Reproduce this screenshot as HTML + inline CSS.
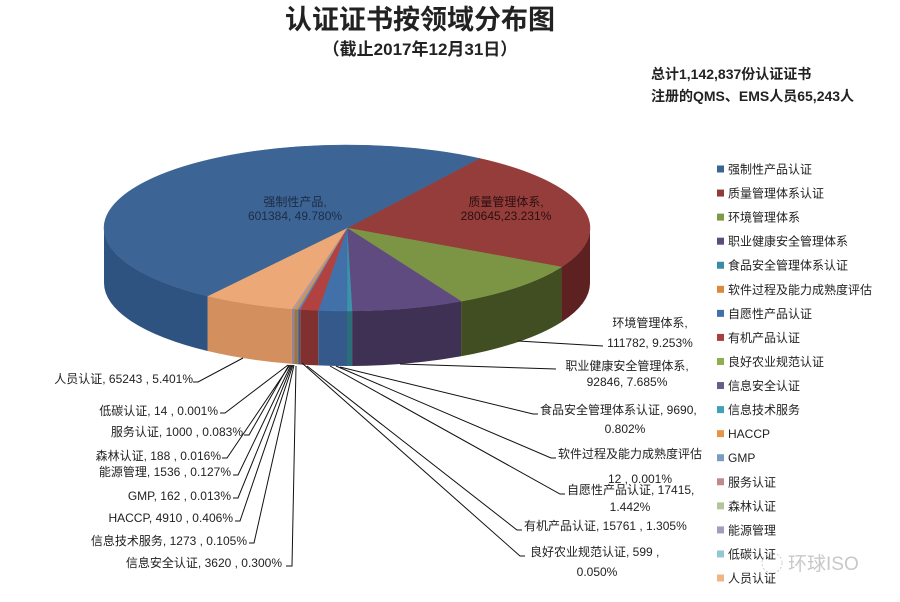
<!DOCTYPE html>
<html><head><meta charset="utf-8">
<style>
html,body{margin:0;padding:0;background:#fff;}
body{width:900px;height:602px;overflow:hidden;position:relative;font-family:"Liberation Sans","Noto Sans CJK SC",sans-serif;}
svg{position:absolute;left:0;top:0;}
.t{font-family:"Liberation Sans","Noto Sans CJK SC",sans-serif;fill:#222;}
</style></head>
<body>
<svg id="s" width="900" height="602" viewBox="0 0 900 602">
<g id="pie"></g>
<text class="t" x="420" y="29" font-size="27" font-weight="bold" text-anchor="middle" fill="#111">认证证书按领域分布图</text>
<text class="t" x="420" y="55" font-size="17" font-weight="bold" text-anchor="middle">（截止2017年12月31日）</text>
<text class="t" x="651" y="79" font-size="14" font-weight="bold">总计1,142,837份认证证书</text>
<text class="t" x="651" y="101" font-size="14" font-weight="bold">注册的QMS、EMS人员65,243人</text>

<g font-size="12" class="t" fill="#1f2a3a">
<text x="295" y="206" text-anchor="middle" fill="#1d2b44">强制性产品,</text>
<text x="295" y="220" text-anchor="middle" fill="#1d2b44">601384, 49.780%</text>
<text x="506" y="206" text-anchor="middle" fill="#2a1010">质量管理体系,</text>
<text x="506" y="220" text-anchor="middle" fill="#2a1010">280645,23.231%</text>
</g>

<g stroke="#111" stroke-width="1" fill="none">
<polyline points="518,341 603,346"/>
<polyline points="400,364 556,369"/>
<polyline points="340,367 533,414 538,414"/>
<polyline points="336,366 551,458 556,458"/>
<polyline points="330,366 560,494 565,494"/>
<polyline points="307,366 517,530 522,530"/>
<polyline points="302,363 520,556 525,556"/>
<polyline points="243,358 198,382 193,382"/>
<polyline points="288,365 225,413 220,413"/>
<polyline points="289,365 249,435 244,435"/>
<polyline points="290,365 227,458 222,458"/>
<polyline points="291,365 238,475 233,475"/>
<polyline points="292,365 238,498 233,498"/>
<polyline points="293,365 240,521 235,521"/>
<polyline points="294,365 254,543 249,543"/>
<polyline points="296,366 292,566 286,566"/>
</g>

<g font-size="12" class="t">
<text x="650" y="327" text-anchor="middle">环境管理体系,</text>
<text x="650" y="347" text-anchor="middle">111782, 9.253%</text>
<text x="627" y="370" text-anchor="middle">职业健康安全管理体系,</text>
<text x="627" y="386" text-anchor="middle">92846, 7.685%</text>
<text x="540" y="414">食品安全管理体系认证, 9690,</text>
<text x="625" y="433" text-anchor="middle">0.802%</text>
<text x="558" y="458">软件过程及能力成熟度评估</text>
<text x="640" y="483" text-anchor="middle">12 , 0.001%</text>
<text x="567" y="494">自愿性产品认证, 17415,</text>
<text x="630" y="511" text-anchor="middle">1.442%</text>
<text x="524" y="530">有机产品认证, 15761 , 1.305%</text>
<text x="530" y="556">良好农业规范认证, 599 ,</text>
<text x="597" y="576" text-anchor="middle">0.050%</text>

<text x="193" y="383" text-anchor="end">人员认证, 65243 , 5.401%</text>
<text x="218" y="415" text-anchor="end">低碳认证, 14 , 0.001%</text>
<text x="243" y="436" text-anchor="end">服务认证, 1000 , 0.083%</text>
<text x="221" y="460" text-anchor="end">森林认证, 188 , 0.016%</text>
<text x="231" y="476" text-anchor="end">能源管理, 1536 , 0.127%</text>
<text x="231" y="500" text-anchor="end">GMP, 162 , 0.013%</text>
<text x="233" y="522" text-anchor="end">HACCP, 4910 , 0.406%</text>
<text x="247" y="545" text-anchor="end">信息技术服务, 1273 , 0.105%</text>
<text x="282" y="567" text-anchor="end">信息安全认证, 3620 , 0.300%</text>
</g>

<g id="legend" font-size="12" class="t" fill="#333"></g>
<text x="788" y="570" font-size="19" fill="#c8c8c8" font-family="Liberation Sans,Noto Sans CJK SC,sans-serif">环球ISO</text>
<circle cx="772" cy="563" r="10" fill="none" stroke="#ccc" stroke-width="1" stroke-dasharray="2,2"/>
</svg>
<script>
(function(){
var cx=347,cy=228,rx=243,ry=83,d=55;
function P(t,dy){t=t*Math.PI/180;return [cx+rx*Math.cos(t),cy+ry*Math.sin(t)+(dy||0)];}
var sl=[
[-57,28,"#953d3b","#5c2120"],
[28,62,"#7c9545","#414e22"],
[62,88.8,"#5f4b7f","#3f3154"],
[88.8,90,"#3a93a8","#2a6e7a"],
[90,96.8,"#4171a8","#34598a"],
[96.8,101.1,"#b2423f","#80302e"],
[101.1,101.5,"#7e6aa0","#5a4c75"],
[101.5,101.8,"#4aa8bc","#35808f"],
[101.8,102.5,"#e08e44","#b06d30"],
[102.5,102.7,"#85a4c8","#6a86a5"],
[102.7,102.9,"#a99fc0","#857c9c"],
[102.9,103.1,"#c08a8a","#9a6a6a"],
[103.1,125,"#eda877","#d38f5e"],
[125,303,"#3c6595","#2f5380"]
];
var g=document.getElementById("pie"),h="";
sl.forEach(function(s){
 var a=Math.max(s[0],0),b=Math.min(s[1],180);
 if(b<=a)return;
 var p1=P(a),p2=P(b),p3=P(b,d),p4=P(a,d);
 h+='<path d="M'+p1+' A'+rx+' '+ry+' 0 0 1 '+p2+' L'+p3+' A'+rx+' '+ry+' 0 0 0 '+p4+' Z" fill="'+s[3]+'"/>';
});
sl.forEach(function(s){
 var p1=P(s[0]),p2=P(s[1]),lg=(s[1]-s[0])>180?1:0;
 h+='<path d="M'+cx+','+cy+' L'+p1+' A'+rx+' '+ry+' 0 '+lg+' 1 '+p2+' Z" fill="'+s[2]+'" stroke="'+s[2]+'" stroke-width="0.5"/>';
});
g.innerHTML=h;
var L=[["强制性产品认证","#3b6593"],["质量管理体系认证","#8f3b3a"],["环境管理体系","#7e9a45"],["职业健康安全管理体系","#5d4b7d"],["食品安全管理体系认证","#3a8ca6"],["软件过程及能力成熟度评估","#d98a3f"],["自愿性产品认证","#4370aa"],["有机产品认证","#a8403e"],["良好农业规范认证","#8fae4d"],["信息安全认证","#6a5b8f"],["信息技术服务","#40a2b8"],["HACCP","#e69447"],["GMP","#7b9cc0"],["服务认证","#c08a8a"],["森林认证","#b3c69b"],["能源管理","#a49bbd"],["低碳认证","#95c6d6"],["人员认证","#f0b584"]];
var lg=document.getElementById("legend"),q="";
L.forEach(function(it,i){var y=169+i*24.06;
 q+='<rect x="717" y="'+(y-3.5)+'" width="7" height="7" fill="'+it[1]+'"/>';
 q+='<text x="728" y="'+(y+4.5)+'">'+it[0]+'</text>';});
lg.innerHTML=q;
})();
</script>
</body></html>
